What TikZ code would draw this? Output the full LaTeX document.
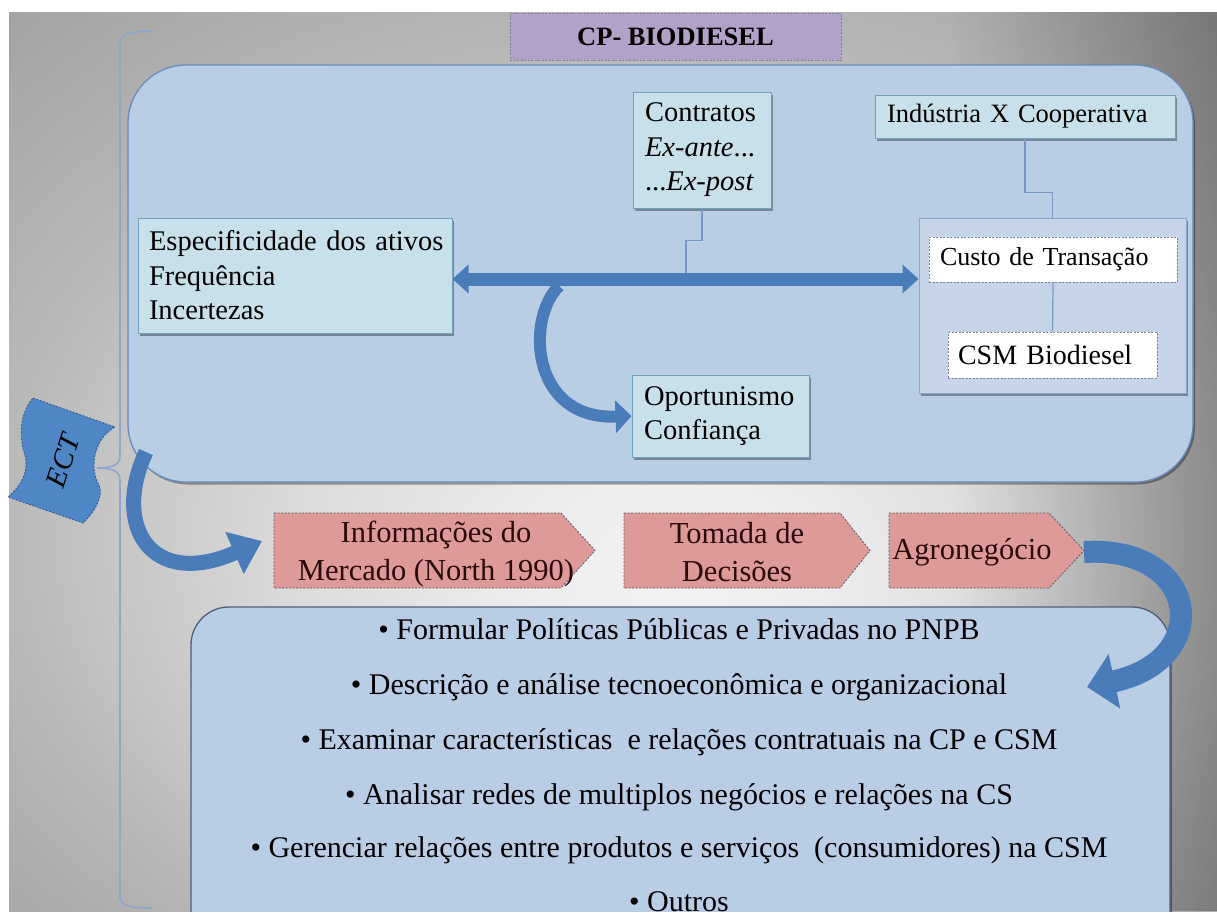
\documentclass[tikz,border=0pt]{standalone}
\usepackage{fontspec}
\setmainfont{Liberation Serif}
\usetikzlibrary{arrows.meta,shadows,fadings}

\definecolor{panelblue}{HTML}{B9CDE5}
\definecolor{panelline}{HTML}{6A8CBB}
\definecolor{lowerline}{HTML}{4E5F7A}
\definecolor{tealfill}{HTML}{C8E0E9}
\definecolor{tealline}{HTML}{72A2BA}
\definecolor{groupfill}{HTML}{C6D4E8}
\definecolor{groupline}{HTML}{8FA8CC}
\definecolor{titlefill}{HTML}{B3A2C7}
\definecolor{salmon}{HTML}{DE9A98}
\definecolor{salmontext}{HTML}{2A0B0B}
\definecolor{arrowblue}{HTML}{4A7CBA}
\definecolor{ectblue}{HTML}{4F86C6}
\definecolor{ectline}{HTML}{35598A}
\definecolor{bracecol}{HTML}{8DA5CF}
\definecolor{connline}{HTML}{7A99C2}
\definecolor{dashgray}{HTML}{7D8594}
\definecolor{bgA}{gray}{0.95}
\definecolor{bgB}{gray}{0.93}
\definecolor{bgC}{gray}{0.86}
\definecolor{bgD}{gray}{0.72}
\definecolor{bgE}{gray}{0.64}
\definecolor{bgF}{gray}{0.60}

% soft light patch of the slide background, centred low and right of middle
\pgfdeclareradialshading{bgglow}{\pgfpoint{2.8bp}{-7.7bp}}{%
  color(0bp)=(bgA); color(6bp)=(bgB); color(15bp)=(bgC);
  color(27bp)=(bgD); color(37bp)=(bgE); color(50bp)=(bgF)}
\tikzfading[name=darkright, left color=transparent!100, right color=transparent!0]

\tikzset{
  boxshadow/.style={drop shadow={shadow xshift=2pt, shadow yshift=-2.5pt, opacity=0.35, fill=black}},
  panel/.style={fill=panelblue, draw=panelline, line width=1.3pt, rounded corners=58pt, boxshadow},
  lowerpanel/.style={fill=panelblue, draw=lowerline, line width=1.3pt, rounded corners=38pt, boxshadow},
  titlebox/.style={rectangle, fill=titlefill, draw=dashgray, dash pattern=on 2pt off 1.5pt,
    line width=0.8pt, minimum width=331pt, minimum height=47pt,
    font=\fontsize{26.5}{30}\selectfont\bfseries},
  tealbox/.style={rectangle, fill=tealfill, draw=tealline, line width=1pt, boxshadow,
    align=left, inner ysep=0pt, font=\fontsize{28.5}{34.5}\selectfont},
  groupbox/.style={rectangle, fill=groupfill, draw=groupline, line width=1pt, boxshadow},
  wbox/.style={rectangle, fill=white, draw=dashgray, dash pattern=on 2pt off 1.5pt,
    line width=0.8pt, align=left, inner ysep=0pt, font=\fontsize{28}{34}\selectfont},
  chev/.style={fill=salmon, draw=dashgray!70!black, dash pattern=on 2pt off 1.5pt, line width=0.8pt},
  chevtext/.style={align=center, text=salmontext, font=\fontsize{30.5}{38}\selectfont},
  listitem/.style={anchor=base, font=\fontsize{30}{36}\selectfont},
  conn/.style={draw=connline, line width=1.2pt},
  dblarrow/.style={draw=arrowblue, line width=13pt,
    {Triangle[length=16pt,width=28pt]}-{Triangle[length=16pt,width=28pt]}},
  bendarrow/.style={draw=arrowblue},
}

\begin{document}
\begin{tikzpicture}[x=1pt,y=-1pt]
\useasboundingbox (0,0) rectangle (1217,911);
\clip (0,0) rectangle (1217,911);

% slide background
\fill[white] (0,0) rectangle (1217,911);
\shade[shading=bgglow] (9,12) rectangle (1217,911);
\fill[black, fill opacity=0.36, path fading=darkright] (950,12) rectangle (1300,911);

% brace grouping the whole model
\draw[bracecol, line width=1.6pt] (152,31) .. controls (132,31) and (120,34) .. (120,44)
  -- (120,456) .. controls (120,465) and (112,468) .. (97,468)
  .. controls (112,468) and (120,471) .. (120,480)
  -- (120,898) .. controls (120,906) and (132,908) .. (152,908);

% ECT banner
\filldraw[fill=ectblue, draw=ectline, dash pattern=on 2pt off 1.5pt, line width=0.8pt]
  (33,398) -- (115,427) .. controls (92,440) and (90,470) .. (99,485)
  .. controls (104,495) and (95,512) .. (83,523)
  -- (8,497) .. controls (22,485) and (30,470) .. (24,452)
  .. controls (18,432) and (22,410) .. (33,398) -- cycle;
\node[rotate=72, font=\fontsize{29}{29}\selectfont\itshape] (ect) at (63,461) {ECT};

% upper panel
\path[panel] (128,65) rectangle (1193,482);

\node[titlebox] (title) at (675.5,36.5) {CP- BIODIESEL};

% boxes inside the upper panel
\node[tealbox, minimum width=314pt, minimum height=115pt, text width=292pt, inner xsep=11pt]
  (spec) at (295,275.5)
  {\mbox{Especificidade dos ativos}\\Frequência\\Incertezas};
\node[tealbox, minimum width=138pt, minimum height=116pt, text width=114pt, inner xsep=12pt]
  (contratos) at (702,150) {Contratos\\\textit{Ex-ante}...\\...\textit{Ex-post}};
\node[tealbox, minimum width=300pt, minimum height=43pt, text width=276pt, inner xsep=12pt,
  font=\fontsize{26.5}{32}\selectfont]
  (industria) at (1025,116.5) {Indústria X Cooperativa};
\node[groupbox, minimum width=267pt, minimum height=175pt] (group) at (1052.5,305.5) {};
\node[wbox, minimum width=248pt, minimum height=45pt, text width=226pt, inner xsep=11pt,
  font=\fontsize{26}{32}\selectfont]
  (custo) at (1053,259.5) {Custo de Transação};
\node[wbox, minimum width=209pt, minimum height=46pt, text width=189pt, inner xsep=10pt]
  (csm) at (1052.5,355) {CSM Biodiesel};
\node[tealbox, minimum width=177pt, minimum height=82pt, text width=153pt, inner xsep=12pt]
  (oport) at (720.5,416) {Oportunismo\\Confiança};

% thin connectors
\coordinate (cj) at (686,272.5);
\draw[conn] (contratos.south) -- ++(0,32) -| (cj);
\draw[conn] (industria.south) -- ++(0,54) -| (group.north);
\draw[conn] (custo.south) -- (csm.north);

% double arrow between attributes and transaction cost
\draw[dblarrow] (spec.east |- 0,279) -- (group.west |- 0,279);

% curved arrow to opportunism / trust
\coordinate (bStart) at (559,286);
\draw[bendarrow, line width=12pt, -{Triangle[length=16pt,width=32pt]}]
  (bStart) .. controls (526,318) and (530,420) .. (oport.west);

% process chevrons
\filldraw[chev] (274,513) -- (561,513) -- (595,550.5) -- (561,588) -- (274,588) -- cycle;
\filldraw[chev] (624,513) -- (840,513) -- (870,550.5) -- (840,588) -- (624,588) -- cycle;
\filldraw[chev] (889,513) -- (1049,513) -- (1084,550.5) -- (1049,588) -- (889,588) -- cycle;
\node[chevtext] (info) at (436,554) {Informações do\\Mercado (North 1990)};
\node[chevtext] (tomada) at (737,552.5) {Tomada de\\Decisões};
\node[chevtext] (agro) at (972,552) {Agronegócio};

% curved arrow from the theory to the market information
\coordinate (aStart) at (146,452);
\coordinate (aEnd) at (262,541);
\draw[bendarrow, line width=15pt, -{Triangle[length=30pt,width=44pt]}]
  (aStart) .. controls (112,525) and (150,590) .. (aEnd);

% lower panel with the list of applications
\path[lowerpanel] (191,607) rectangle (1170,950);
\node[listitem] (l1) at (679,639) {• Formular Políticas Públicas e Privadas no PNPB};
\node[listitem] (l2) at (679,694) {• Descrição e análise tecnoeconômica e organizacional};
\node[listitem] (l3) at (679,749) {• Examinar características\ \ e relações contratuais na CP e CSM};
\node[listitem] (l4) at (679,804) {• Analisar redes de multiplos negócios e relações na CS};
\node[listitem] (l5) at (679,857) {• Gerenciar relações entre produtos e serviços\ \ (consumidores) na CSM};
\node[listitem] (l6) at (679,911) {• Outros};

% curved arrow from agribusiness down into the list
\coordinate (agroTip) at (1084,552);
\coordinate (cEnd) at (1087,687);
\draw[bendarrow, line width=22pt, -{Triangle[length=28pt,width=54pt]}]
  (agroTip) .. controls (1200,545) and (1215,660) .. (cEnd);
\end{tikzpicture}
\end{document}
